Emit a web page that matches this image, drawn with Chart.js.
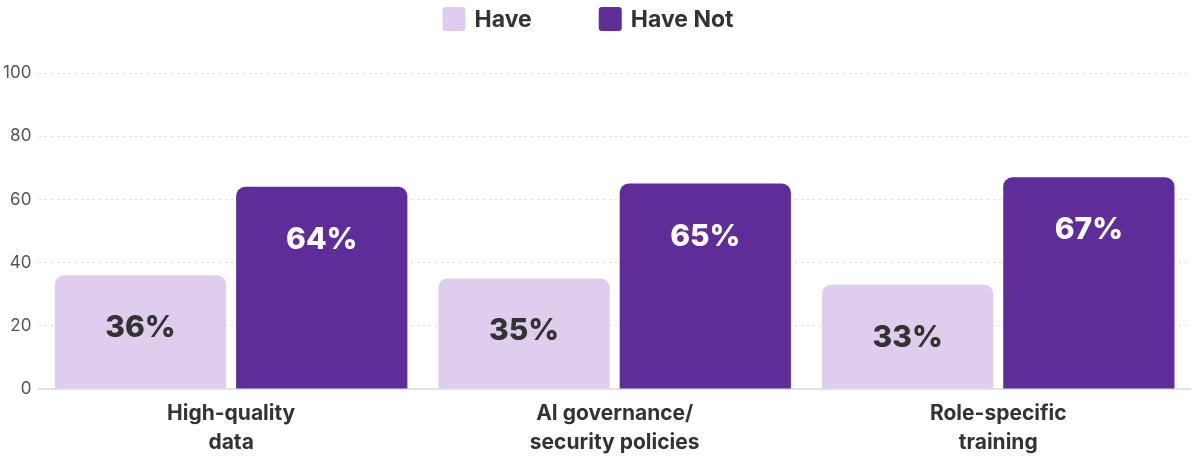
<!DOCTYPE html>
<html lang="en">
<head>
    <meta charset="UTF-8">
    <title>Have vs Have Not</title>
    <style>
        html, body { margin: 0; padding: 0; background: #fff; }
        #wrap { width: 1200px; height: 460px; }
    </style>
</head>
<body>
    <div id="wrap"><canvas id="barChart" width="1200" height="460"></canvas></div>
    <script src="https://cdn.jsdelivr.net/npm/chart.js"></script>
    <script>
        const categories = [
            ['High-quality', 'data'],
            ['AI governance/', 'security policies'],
            ['Role-specific', 'training']
        ];
        const haveValues = [36, 35, 33];
        const haveNotValues = [64, 65, 67];
        const yTicks = [0, 20, 40, 60, 80, 100];

        const FONT = "Inter, 'Open Sans', sans-serif";

        // percent labels inside each bar, a fixed distance under its top
        const barLabels = {
            id: 'barLabels',
            afterDatasetsDraw(chart) {
                const ctx = chart.ctx;
                ctx.save();
                ctx.font = "800 30px " + FONT;
                ctx.textAlign = 'center';
                ctx.textBaseline = 'middle';
                chart.data.datasets.forEach((ds, i) => {
                    chart.getDatasetMeta(i).data.forEach((bar, j) => {
                        ctx.fillStyle = i === 0 ? '#333333' : '#ffffff';
                        ctx.fillText(ds.data[j] + '%', bar.x, bar.y + 53);
                    });
                });
                ctx.restore();
            }
        };

        // legend with wide spacing between items (built-in one ties it to vertical padding)
        const topLegend = {
            id: 'topLegend',
            afterDraw(chart) {
                const ctx = chart.ctx;
                const box = 23, gap = 9, itemGap = 67, cy = 19, centerX = 588;
                ctx.save();
                ctx.font = "700 23px " + FONT;
                ctx.textBaseline = 'middle';
                const items = chart.data.datasets.map(ds => ({
                    text: ds.label, color: ds.backgroundColor, w: ctx.measureText(ds.label).width
                }));
                let total = 0;
                items.forEach((it, k) => { total += box + gap + it.w + (k ? itemGap : 0); });
                let x = centerX - total / 2;
                items.forEach(it => {
                    ctx.fillStyle = it.color;
                    ctx.beginPath();
                    ctx.roundRect(x, cy - 12, box, 24, 3);
                    ctx.fill();
                    ctx.fillStyle = '#333333';
                    ctx.fillText(it.text, x + box + gap, cy + 1);
                    x += box + gap + it.w + itemGap;
                });
                ctx.restore();
            }
        };

        const ctx = document.getElementById('barChart').getContext('2d');
        const chart = new Chart(ctx, {
            type: 'bar',
            data: {
                labels: categories,
                datasets: [{
                    label: 'Have',
                    data: haveValues,
                    backgroundColor: '#dfcdee',
                    borderRadius: 9,
                    categoryPercentage: 0.945,
                    barPercentage: 0.945
                }, {
                    label: 'Have Not',
                    data: haveNotValues,
                    backgroundColor: '#5f2d9a',
                    borderRadius: 9,
                    categoryPercentage: 0.945,
                    barPercentage: 0.945
                }]
            },
            options: {
                responsive: false,
                animation: false,
                layout: { padding: { left: -5, right: 10, top: 73, bottom: -7 } },
                plugins: {
                    tooltip: { enabled: false },
                    legend: { display: false }
                },
                scales: {
                    x: {
                        grid: { display: false, drawTicks: false },
                        border: { display: true, color: '#e3e3e3', width: 2 },
                        ticks: {
                            color: '#333333',
                            padding: 10,
                            font: { family: FONT, size: 21, weight: '700', lineHeight: 1.38 }
                        }
                    },
                    y: {
                        min: 0,
                        max: 100,
                        afterBuildTicks(scale) {
                            scale.ticks = yTicks.map(v => ({ value: v }));
                        },
                        border: { display: false, dash: [2, 4] },
                        grid: {
                            drawTicks: false,
                            color: c => c.tick.value === 0 ? 'rgba(0,0,0,0)' : '#d9d9d9',
                            lineWidth: 1
                        },
                        ticks: {
                            color: '#555555',
                            padding: 8,
                            font: { family: FONT, size: 17 }
                        }
                    }
                }
            },
            plugins: [barLabels, topLegend]
        });
    </script>
</body>
</html>
